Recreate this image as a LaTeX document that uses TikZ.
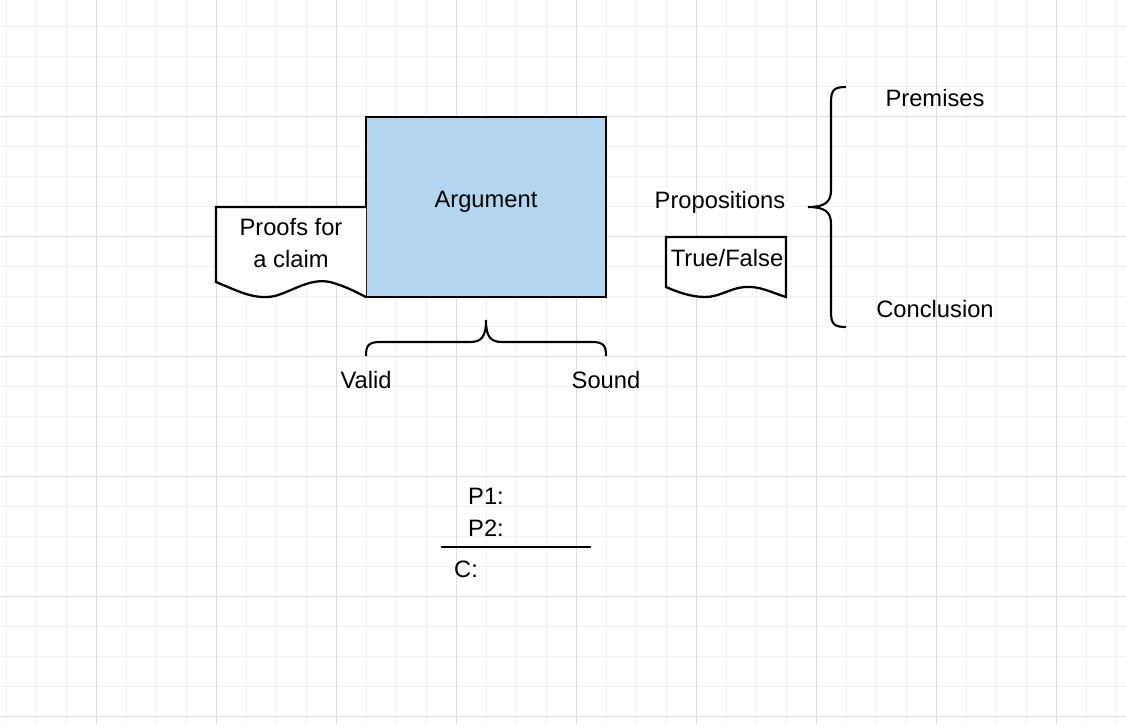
\documentclass[tikz,border=0pt]{standalone}
\usepackage{fontspec}
\setmainfont{Liberation Sans}
\usetikzlibrary{positioning}
\definecolor{argFill}{HTML}{B3D5EF}
\colorlet{gridMinor}{black!6}
\colorlet{gridMajor}{black!13}
\tikzset{
  shapeLine/.style={black, line width=1.3pt},
  lbl/.style={font=\fontsize{13.5}{16}\selectfont, inner sep=0pt}
}
\begin{document}
\begin{tikzpicture}[x=0.02cm,y=-0.02cm]
  \useasboundingbox (0,0) rectangle (1126,724);
  % grid
  \foreach \gx in {6,36,...,1126} \draw[gridMinor,line width=0.5pt] (\gx,0) -- (\gx,724);
  \foreach \gy in {26,56,...,724} \draw[gridMinor,line width=0.5pt] (0,\gy) -- (1126,\gy);
  \foreach \gx in {96,216,...,1126} \draw[gridMajor,line width=0.5pt] (\gx,0) -- (\gx,724);
  \foreach \gy in {116,236,...,724} \draw[gridMajor,line width=0.5pt] (0,\gy) -- (1126,\gy);
  % argument box
  \draw[shapeLine, fill=argFill] (366,117) rectangle (606,297);
  \node[lbl] (arg) at (486,202) {Argument};
  % proofs document
  \draw[shapeLine, fill=white] (366,207) -- (216,207) -- (216,282)
     .. controls (240,292) and (255,300) .. (275,296)
     .. controls (295,290) and (310,278) .. (330,282)
     .. controls (345,286) and (356,292) .. (366,297);
  \node[lbl, align=center] (proofs) at (291,243) {Proofs for\\[2pt]a claim};
  % true/false document
  \draw[shapeLine, fill=white] (666,237) rectangle (786,287);
  \draw[shapeLine, fill=white] (666,237) -- (786,237) -- (786,297)
     .. controls (770,292) and (760,286) .. (745,287)
     .. controls (730,288) and (720,297) .. (705,297)
     .. controls (690,297) and (675,291) .. (666,287) -- cycle;
  \node[lbl] (tf) at (727,258) {True/False};
  \node[lbl] (props) at (720,202) {Propositions};
  % brace under argument
  \draw[shapeLine, line width=1.2pt] (366,356) .. controls (366,346) and (368,342) .. (380,342)
     -- (470,342) .. controls (482,342) and (486,336) .. (486,320)
     .. controls (486,336) and (490,342) .. (502,342)
     -- (592,342) .. controls (604,342) and (606,346) .. (606,356);
  \node[lbl] (valid) at (366,380) {Valid};
  \node[lbl] (sound) at (606,380) {Sound};
  % brace right
  \draw[shapeLine, line width=1.2pt] (846,87) .. controls (834,87) and (831,90) .. (831,102)
     -- (831,190) .. controls (831,202) and (825,207) .. (808,207)
     .. controls (825,207) and (831,212) .. (831,224)
     -- (831,312) .. controls (831,324) and (834,327) .. (846,327);
  \node[lbl] (prem) at (935,98) {Premises};
  \node[lbl] (concl) at (935,309) {Conclusion};
  % standard form
  \node[lbl] (p1) at (486,496) {P1:};
  \node[lbl] (p2) at (486,528) {P2:};
  \coordinate (barL) at (441,547);
  \coordinate (barR) at (591,547);
  \draw[shapeLine] (barL) -- (barR);
  \node[lbl] (c) at (466,569) {C:};
\end{tikzpicture}
\end{document}
